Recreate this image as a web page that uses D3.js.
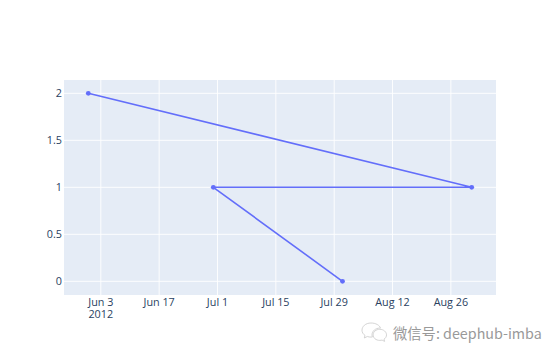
<!DOCTYPE html>
<html>
<head>
<meta charset="utf-8">
<script src="https://cdn.jsdelivr.net/npm/d3@7"></script>
<style>
  html, body { margin: 0; padding: 0; background: #fff; }
  svg { display: block; }
</style>
</head>
<body>
<svg id="chart" width="560" height="359"></svg>
<script>
// Series: one trace, points joined in the order given
const dates = ["2012-05-31", "2012-08-31", "2012-06-30", "2012-07-31"];
const values = [2, 1, 1, 0];

// Axis ticks (the first date label carries the year on a second line)
const xTickDates = ["2012-06-03", "2012-06-17", "2012-07-01", "2012-07-15", "2012-07-29", "2012-08-12", "2012-08-26"];
const xTickLabels = [["Jun 3", "2012"], ["Jun 17"], ["Jul 1"], ["Jul 15"], ["Jul 29"], ["Aug 12"], ["Aug 26"]];
const yTicks = [0, 0.5, 1, 1.5, 2];
const yTickLabels = ["0", "0.5", "1", "1.5", "2"];

const W = 560, H = 359;
const margin = { left: 64, right: 64, top: 80, bottom: 64 };
const plotL = margin.left, plotR = W - margin.right;
const plotT = margin.top, plotB = H - margin.bottom;
const padX = 24.3;   // room kept for the end markers
const parse = d3.utcParse("%Y-%m-%d");

const pts = dates.map((d, i) => ({ date: parse(d), value: values[i] }));

const x = d3.scaleUtc()
  .domain(d3.extent(pts, d => d.date))
  .range([plotL + padX, plotR - padX]);

const y = d3.scaleLinear()
  .domain([0, 2])
  .range([281.3, 93.3]);

const svg = d3.select("#chart");
const font = "'Open Sans', verdana, arial, sans-serif";
const textColor = "#2a3f5f";
const tickSize = 10.8;

// Plot background
svg.append("rect")
  .attr("x", plotL).attr("y", plotT)
  .attr("width", plotR - plotL).attr("height", plotB - plotT)
  .attr("fill", "#E5ECF6");

// Grid lines
const grid = svg.append("g").attr("stroke", "#fff").attr("stroke-width", 0.9);
grid.selectAll("line.gx").data(xTickDates).join("line")
  .attr("class", "gx")
  .attr("x1", d => x(parse(d))).attr("x2", d => x(parse(d)))
  .attr("y1", plotT).attr("y2", plotB);
grid.selectAll("line.gy").data(yTicks).join("line")
  .attr("class", "gy")
  .attr("x1", plotL).attr("x2", plotR)
  .attr("y1", d => y(d)).attr("y2", d => y(d));

// X tick labels, one text element per tick with a tspan per line
const xl = svg.append("g")
  .attr("font-family", font).attr("font-size", tickSize)
  .attr("fill", textColor).attr("text-anchor", "middle");
xl.selectAll("text").data(xTickDates).join("text")
  .attr("y", 306.2)
  .each(function (d, i) {
    const t = d3.select(this);
    const cx = x(parse(d));
    xTickLabels[i].forEach((s, k) => {
      t.append("tspan")
        .attr("x", cx)
        .attr("dy", k === 0 ? 0 : 11.4)
        .text(s);
    });
  });

// Y tick labels
svg.append("g")
  .attr("font-family", font).attr("font-size", tickSize)
  .attr("fill", textColor).attr("text-anchor", "end")
  .selectAll("text").data(yTicks).join("text")
  .attr("x", 62)
  .attr("y", d => y(d) + 3.8)
  .text((d, i) => yTickLabels[i]);

// Line and markers
const line = d3.line().x(d => x(d.date)).y(d => y(d.value));
svg.append("path")
  .datum(pts)
  .attr("d", line)
  .attr("fill", "none")
  .attr("stroke", "#636efa")
  .attr("stroke-width", 1.6)
  .attr("stroke-linejoin", "round");
svg.append("g").selectAll("circle").data(pts).join("circle")
  .attr("cx", d => x(d.date))
  .attr("cy", d => y(d.value))
  .attr("r", 2.4)
  .attr("fill", "#636efa");

// Account tag at the bottom right, with a two-bubble chat icon
const tag = svg.append("g").attr("transform", "translate(362,322)");
tag.append("path")
  .attr("d", "M9,1 C3.5,1 0,4.5 0,8.2 C0,10.4 1.2,12.2 3,13.4 L2.3,16 L5.3,14.5 C6.5,14.9 7.7,15.1 9,15.1 C9.5,15.1 10,15.1 10.4,15 C10.1,14.3 10,13.6 10,12.9 C10,9.1 13.5,6.1 17.8,6.1 C18.1,6.1 18.3,6.1 18.5,6.1 C17.6,3.2 13.7,1 9,1 Z")
  .attr("fill", "none").attr("stroke", "#cfcfcf").attr("stroke-width", 0.9);
tag.append("path")
  .attr("d", "M17.8,7.3 C13.9,7.3 11.1,9.9 11.1,12.9 C11.1,15.9 13.9,18.4 17.8,18.4 C18.6,18.4 19.4,18.3 20.1,18.1 L22.6,19.4 L22,17.2 C23.6,16.2 24.5,14.6 24.5,12.9 C24.5,9.9 21.6,7.3 17.8,7.3 Z")
  .attr("fill", "none").attr("stroke", "#cfcfcf").attr("stroke-width", 0.9);
svg.append("text")
  .attr("x", 393).attr("y", 339)
  .attr("font-family", "'Noto Sans CJK SC', 'Noto Sans', sans-serif")
  .attr("font-size", 14.3)
  .attr("fill", "#999999")
  .text("微信号: deephub-imba");
</script>
</body>
</html>
